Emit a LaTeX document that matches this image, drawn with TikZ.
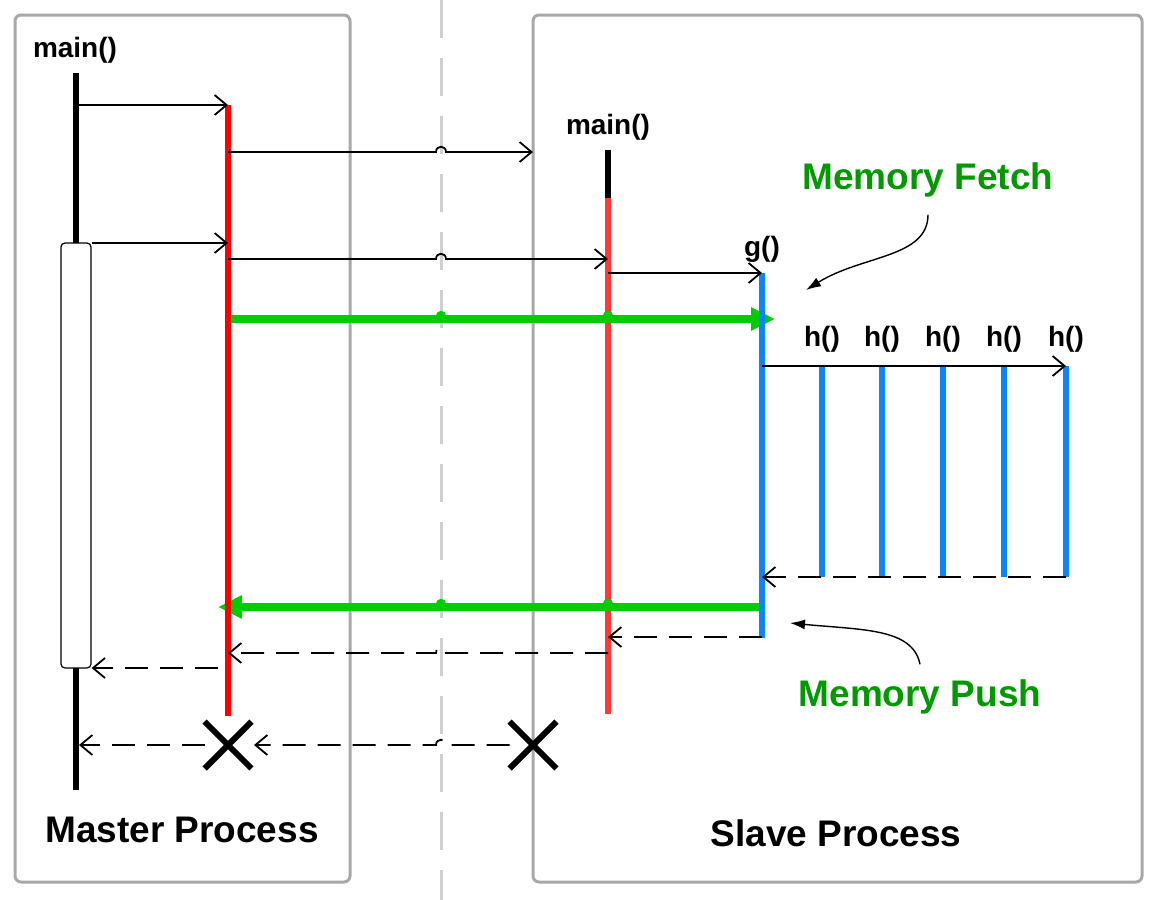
\documentclass[tikz,border=0pt]{standalone}
\usepackage{fontspec}
\setmainfont{Liberation Sans}
\usetikzlibrary{arrows.meta,positioning}
\definecolor{lanegray}{HTML}{A8A8A8}
\definecolor{splitgray}{HTML}{D0D0D0}
\definecolor{masterred}{HTML}{FF0000}
\definecolor{slavered}{HTML}{FF3838}
\definecolor{callblue}{HTML}{0A84FF}
\definecolor{memgreen}{HTML}{00CC00}
\definecolor{notegreen}{HTML}{009900}
\tikzset{
    lane/.style={
                draw=lanegray,
                line width=1.5pt,
                rounded corners=3pt
            },
        split/.style={
                draw=splitgray,
                line width=1.5pt,
                dash pattern=on 19pt off 10pt
            },
        life/.style={
                line width=3pt
            },
        msg/.style={
                line width=0.9pt,
                -{Straight Barb[length=6pt,width=10pt]}
            },
        reply/.style={
                msg,
                dash pattern=on 11.5pt off 6pt
            },
        memory/.style={
                draw=memgreen,
                line width=4pt,
                -{Triangle[length=12pt,width=11pt]}
            },
        pointer/.style={
                line width=0.7pt,
                -{Latex[length=7.5pt,width=5pt]}
            },
        kill/.style={
                line width=3pt
            },
        label/.style={
                inner sep=0pt,
                font=\bfseries\fontsize{14}{16}\selectfont
            },
        title/.style={
                inner sep=0pt,
                font=\bfseries\fontsize{18.5}{22}\selectfont
            },
        note/.style={
                title,
                text=notegreen
            },
}

\begin{document}
\begin{tikzpicture}[x=0.5pt,y=-0.5pt]
  \useasboundingbox (0,0) rectangle (1169,900);
  % Processes
  \draw[lane] (15,15) rectangle (350,882);
  \draw[lane] (533,15) rectangle (1142,882);
  \draw[split] (441,0) -- (441,900);
  \node[title] (master) at (182,830) {Master Process};
  \node[title] (slave) at (836,833) {Slave Process};
  % Lifelines
  \coordinate (M) at (76,0);
  \coordinate (R) at (228,0);
  \coordinate (D) at (441,0);
  \coordinate (E) at (533,0);
  \coordinate (S) at (608,0);
  \coordinate (G) at (762,0);
  \node[label] (mainM) at (75,50) {main()};
  \node[label] (mainS) at (608,127) {main()};
  \node[label] (gS) at (762,249) {g()};
  \draw[life] (76,73) -- (76,790);
  \node[draw, fill=white, rounded corners=2pt, line width=0.6pt, inner sep=0pt,
        minimum width=15pt, minimum height=212.5pt] (act) at (76,455.5) {};
  \draw[life] (608,150) -- (608,198);
  \draw[life, slavered] (608,198) -- (608,714);
  % Rows
  \coordinate (r1) at (0,105);
  \coordinate (r2) at (0,152);
  \coordinate (r3) at (0,243);
  \coordinate (r4) at (0,259);
  \coordinate (r5) at (0,273);
  \coordinate (r6) at (0,319);
  \coordinate (r7) at (0,366);
  \coordinate (r8) at (0,577);
  \coordinate (r9) at (0,607);
  \coordinate (r10) at (0,637);
  \coordinate (r11) at (0,653);
  \coordinate (r12) at (0,668);
  \coordinate (r13) at (0,745);
  % Memory transfers
  \draw[memory] (R |- r6) -- ([xshift=6.5pt]G |- r6);
  \draw[memory] (G |- r9) -- ([xshift=-5pt]R |- r9);
  \foreach \col in {D,S}{
      \fill[memgreen] ([yshift=1.5pt]\col |- r6) circle (2.6pt);
      \fill[memgreen] ([yshift=1.5pt]\col |- r9) circle (2.6pt);
    }
  \draw[life, masterred] (228,105) -- (228,716);
  \draw[life, callblue] (762,273) -- (762,638);
  \foreach \x/\n in {822/1,882/2,943/3,1004/4,1066/5}{
      \coordinate (H\n) at (\x,0);
      \node[label] (h\n) at (\x,339) {h()};
      \draw[life, callblue] (\x,366) -- (\x,577);
    }
  % Calls
  \draw[msg] ([xshift=1.5pt]M |- r1) -- (R |- r1);
  \draw[msg] (R |- r2) -- ([xshift=-2.5pt]D |- r2)
      .. controls +(0,3.5pt) and +(0,3.5pt) .. ([xshift=2.5pt]D |- r2) -- (E |- r2);
  \draw[msg] (act.east |- r3) -- (R |- r3);
  \draw[msg] (R |- r4) -- ([xshift=-2.5pt]D |- r4)
      .. controls +(0,3.5pt) and +(0,3.5pt) .. ([xshift=2.5pt]D |- r4) -- (S |- r4);
  \draw[msg] (S |- r5) -- (G |- r5);
  \draw[msg] (G |- r7) -- (H5 |- r7);
  % Returns
  \draw[reply] (H5 |- r8) -- (G |- r8);
  \draw[reply] (G |- r10) -- (S |- r10);
  \draw[reply] (S |- r11) -- ([xshift=2.5pt]D |- r11)
      .. controls +(0,3.5pt) and +(0,3.5pt) .. ([xshift=-2.5pt]D |- r11) -- (R |- r11);
  \draw[reply] ([xshift=-5pt]R |- r12) -- (act.east |- r12);
  % Termination
  \node[inner sep=0pt, minimum size=23pt] (endR) at (228,745) {};
  \node[inner sep=0pt, minimum size=23pt] (endS) at (533,745) {};
  \foreach \e in {endR,endS}{
      \draw[kill] (\e.north west) -- (\e.south east);
      \draw[kill] (\e.south west) -- (\e.north east);
    }
  \draw[reply] (endS.west |- r13) -- ([xshift=2.5pt]D |- r13)
      .. controls +(0,3.5pt) and +(0,3.5pt) .. ([xshift=-2.5pt]D |- r13) -- ([xshift=13pt]R |- r13);
  \draw[reply] (endR.west |- r13) -- ([xshift=1.5pt]M |- r13);
  % Notes
  \node[note] (fetch) at (928,180) {Memory Fetch};
  \node[note] (push) at (920,697) {Memory Push};
  \coordinate (fetchEnd) at (806,290);
  \coordinate (pushEnd) at (790,623);
  \draw[pointer] ([yshift=-8.5pt]fetch.south) .. controls (928,258) and (862,255) .. (fetchEnd);
  \draw[pointer] ([yshift=7.5pt]push.north) .. controls (913,628) and (862,630) .. (pushEnd);
\end{tikzpicture}
\end{document}
